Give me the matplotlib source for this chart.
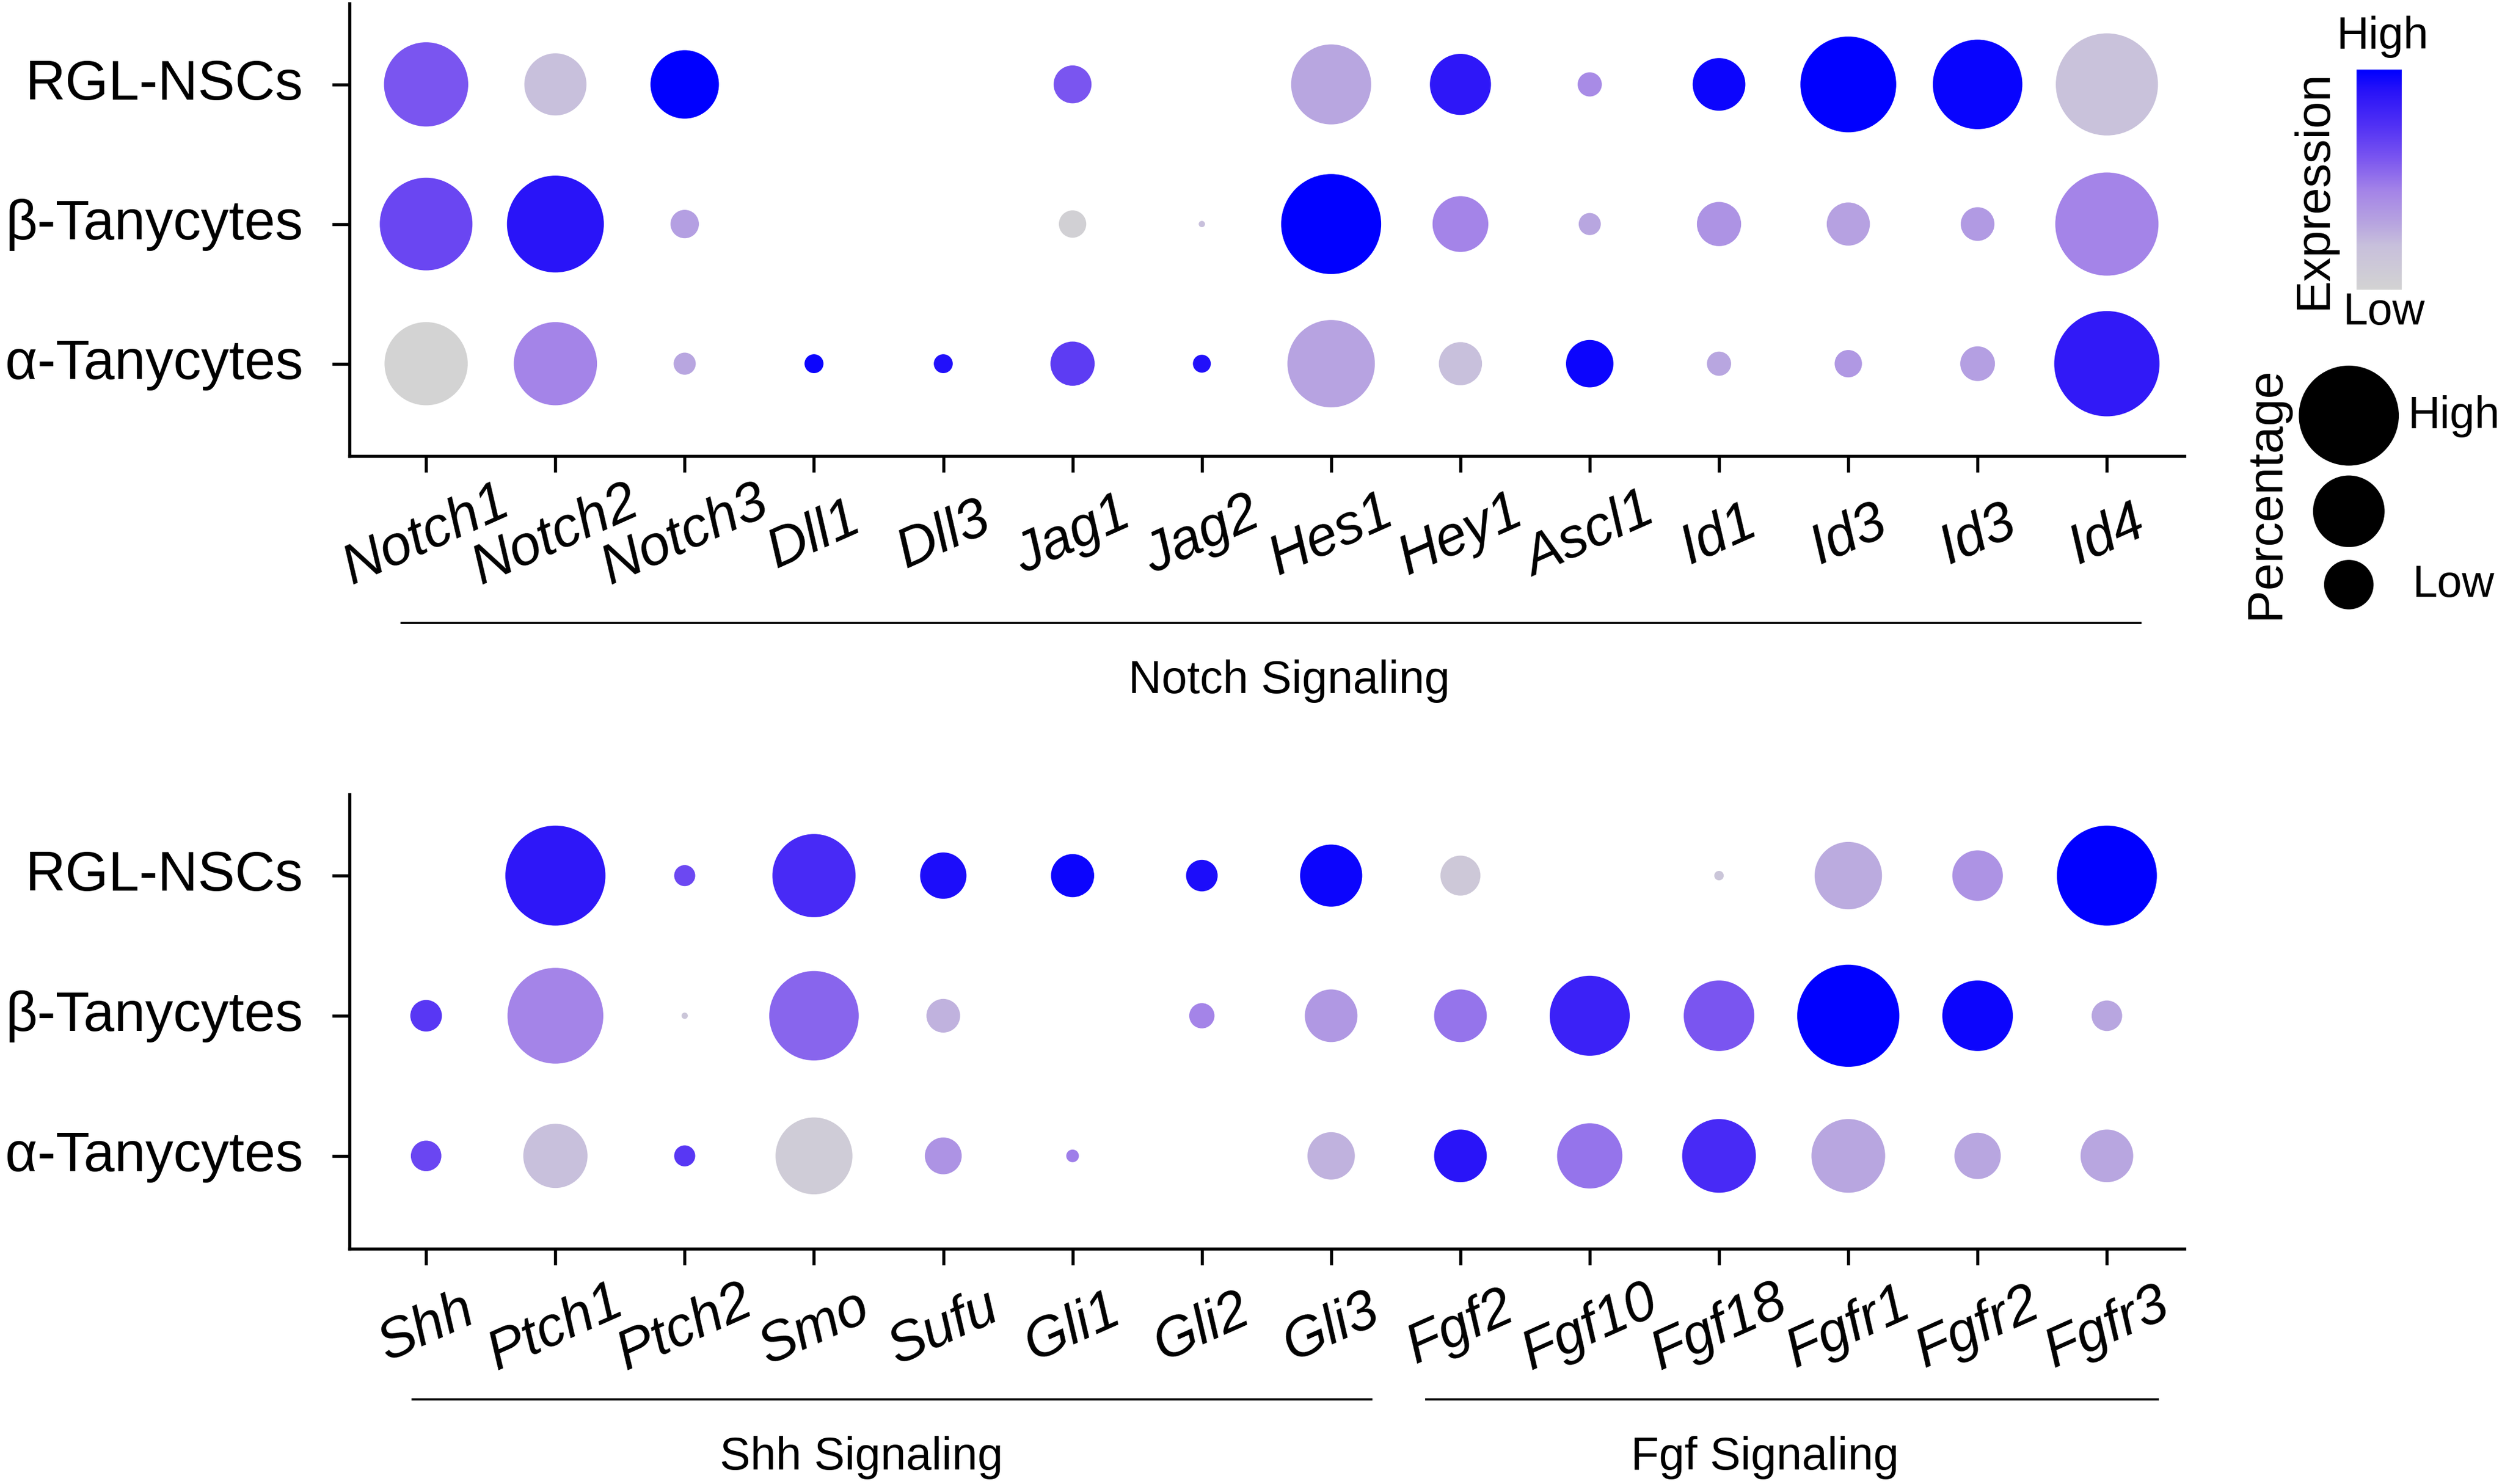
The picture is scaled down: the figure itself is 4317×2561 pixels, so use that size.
import numpy as np
import matplotlib
matplotlib.use("Agg")
import matplotlib.pyplot as plt
from matplotlib.colors import LinearSegmentedColormap
from matplotlib.transforms import ScaledTranslation

plt.rcParams["font.family"] = ["Liberation Sans", "DejaVu Sans"]

ROWS = ["α-Tanycytes", "β-Tanycytes", "RGL-NSCs"]
nan = np.nan

# top panel
GENES_TOP = ["Notch1", "Notch2", "Notch3", "Dll1", "Dll3", "Jag1", "Jag2",
             "Hes1", "Hey1", "Ascl1", "Id1", "Id3", "Id3", "Id4"]
PCT_TOP_RGL = [80, 59, 65, nan, nan, 36, nan, 76, 58, 23, 50, 91, 85, 97]
PCT_TOP_BETA = [88, 92, 27, nan, nan, 26, 6, 95, 53, 21, 42, 41, 32, 98]
PCT_TOP_ALPHA = [79, 79, 21, 18, 18, 42, 17, 83, 41, 45, 23, 26, 33, 100]
EXP_TOP_RGL = [.60, .20, 1, nan, nan, .60, nan, .30, .88, .42, .97, 1, .98, .18]
EXP_TOP_BETA = [.66, .90, .33, nan, nan, .03, .20, 1, .45, .30, .38, .32, .35, .45]
EXP_TOP_ALPHA = [0, .45, .30, .97, .92, .70, .92, .31, .20, .97, .30, .36, .33, .87]

# bottom panel
GENES_BOT = ["Shh", "Ptch1", "Ptch2", "Smo", "Sufu", "Gli1", "Gli2",
             "Gli3", "Fgf2", "Fgf10", "Fgf18", "Fgfr1", "Fgfr2", "Fgfr3"]
PCT_BOT_RGL = [nan, 95, 20, 79, 44, 41, 30, 59, 38, nan, 9, 64, 48, 95]
PCT_BOT_BETA = [30, 91, 6, 85, 32, nan, 24, 50, 50, 76, 67, 97, 67, 29]
PCT_BOT_ALPHA = [29, 61, 20, 73, 35, 12, nan, 45, 50, 62, 70, 70, 44, 50]
EXP_BOT_RGL = [nan, .88, .65, .78, .93, .97, .93, .97, .12, nan, .14, .28, .38, 1]
EXP_BOT_BETA = [.72, .45, .14, .55, .25, nan, .45, .36, .50, .83, .60, 1, .97, .30]
EXP_BOT_ALPHA = [.66, .20, .72, .08, .38, .47, nan, .25, .90, .50, .78, .30, .30, .30]

LEGEND_PCT = [95, 68, 47]

W, H = 1568.0, 931.0       # layout measured on a 1568 px wide view
MAX_D = 66 * 4317 / W / 300 * 72    # dot diameter in points at 100 %

CMAP = LinearSegmentedColormap.from_list("expr", [
    (0.0, "#d3d3d3"), (0.2, "#c8c0dc"), (0.3, "#b8a5e0"), (0.45, "#a484e8"),
    (0.6, "#7a55f0"), (0.75, "#5030f5"), (0.9, "#2a14f8"), (1.0, "#0000ff")])


def box(x0, y0, x1, y1):
    return [x0 / W, 1 - y1 / H, (x1 - x0) / W, (y1 - y0) / H]


def dot_size(pct):
    return (np.asarray(pct, dtype=float) / 100 * MAX_D) ** 2


def dotplot(pos, genes, pct_rows, exp_rows, ylim):
    ax = fig.add_axes(pos)
    xs = np.arange(len(genes))
    for row, (pct, exp) in enumerate(zip(pct_rows, exp_rows)):
        ax.scatter(xs, np.full(len(xs), row), s=dot_size(pct), c=exp, cmap=CMAP,
                   vmin=0, vmax=1, linewidths=0, clip_on=False)
    ax.set_xlim(-0.593, 13.6)
    ax.set_ylim(*ylim)
    ax.set_yticks(range(3))
    ax.set_yticklabels(ROWS, fontsize=23)
    ax.set_xticks(xs)
    ax.set_xticklabels(genes, fontsize=23, style="italic", rotation=24,
                       ha="center", va="center")
    ax.tick_params(axis="y", length=7.2, width=1.3, pad=12)
    ax.tick_params(axis="x", length=6.6, width=1.3, pad=26)
    # row labels sit a little above their ticks in the original
    for lab in ax.get_yticklabels():
        lab.set_transform(lab.get_transform()
                          + ScaledTranslation(0, 3.5 * 0.66 / 72, fig.dpi_scale_trans))
    ax.spines["top"].set_visible(False)
    ax.spines["right"].set_visible(False)
    ax.spines["left"].set_linewidth(1.3)
    ax.spines["bottom"].set_linewidth(1.3)
    return ax


fig = plt.figure(figsize=(4317 / 300, 2562 / 300), dpi=300)

dotplot(box(219, 2.5, 1369, 286.5), GENES_TOP,
        [PCT_TOP_ALPHA, PCT_TOP_BETA, PCT_TOP_RGL],
        [EXP_TOP_ALPHA, EXP_TOP_BETA, EXP_TOP_RGL], (-0.663, 2.58))
dotplot(box(219, 498.5, 1369, 783.5), GENES_BOT,
        [PCT_BOT_ALPHA, PCT_BOT_BETA, PCT_BOT_RGL],
        [EXP_BOT_ALPHA, EXP_BOT_BETA, EXP_BOT_RGL], (-0.663, 2.58))

# overlay for group lines and legends, in view pixels
over = fig.add_axes([0, 0, 1, 1])
over.set_xlim(0, W)
over.set_ylim(H - 1, -1)
over.axis("off")

for x0, x1, y, xt, yt, label in [
    (251, 1342, 390, 808, 426, "Notch Signaling"),
    (258, 860, 877, 540, 913, "Shh Signaling"),
    (893, 1353, 877, 1106, 913, "Fgf Signaling"),
]:
    over.plot([x0, x1], [y, y], color="black", lw=0.9, solid_capstyle="butt")
    over.text(xt, yt, label, fontsize=19, ha="center", va="center")

# expression legend
cax = fig.add_axes(box(1477, 44, 1505, 182))
cax.imshow(np.linspace(1, 0, 256)[:, None], cmap=CMAP, aspect="auto", vmin=0, vmax=1)
cax.axis("off")
over.text(1493, 22, "High", fontsize=18.5, ha="center", va="center")
over.text(1494, 195, "Low", fontsize=18.5, ha="center", va="center")
over.text(1450, 118, "Expression", fontsize=20, rotation=90, ha="center", va="center")

# percentage legend
over.scatter([1472, 1472, 1472], [260, 320, 366], s=dot_size(LEGEND_PCT),
             color="black", linewidths=0)
over.text(1509, 260, "High", fontsize=18.5, ha="left", va="center")
over.text(1512, 366, "Low", fontsize=18.5, ha="left", va="center")
over.text(1420, 308, "Percentage", fontsize=20.4, rotation=90, ha="center", va="center")

fig.savefig("out.png", dpi=300)
